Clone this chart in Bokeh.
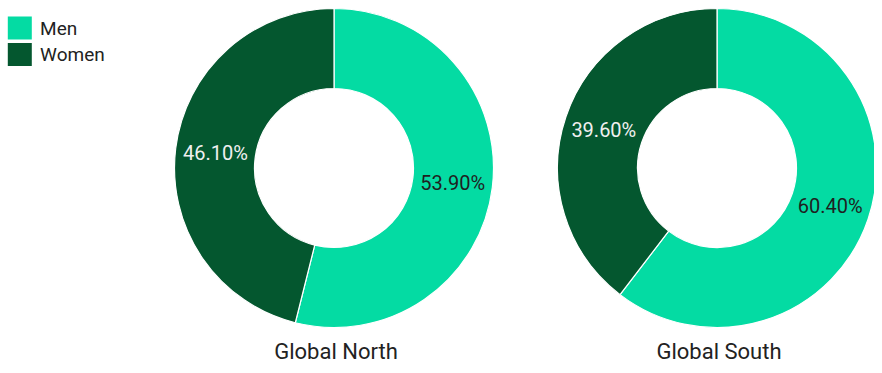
import math
from bokeh.plotting import figure
from bokeh.models import Range1d, ColumnDataSource
from bokeh.core.properties import value
from bokeh.embed import file_html
from bokeh.resources import INLINE

# ---- data ----
regions = ["Global North", "Global South"]
categories = ["Men", "Women"]
men_pct = [53.9, 60.4]
women_pct = [46.1, 39.6]

colors = {"Men": "#04DBA3", "Women": "#04572F"}
label_colors = {"Men": "#1f1f1f", "Women": "#f0f0f0"}

# ---- layout (pixels) ----
W, H = 874, 365
centers_x = [333.5, 716.5]
center_y = 197.5
r_in, r_out = 79.5, 159.5
FONT = "Roboto"

p = figure(width=W, height=H, output_backend="svg", toolbar_location=None,
           x_range=Range1d(0, W), y_range=Range1d(0, H),
           min_border=0, outline_line_color=None, background_fill_color="white",
           border_fill_color="white")
p.axis.visible = False
p.grid.visible = False
p.frame_width = W
p.frame_height = H

series = {"Men": men_pct, "Women": women_pct}
label_data = {"x": [], "y": [], "text": [], "color": []}
for cat in categories:
    xs, ys, starts, ends = [], [], [], []
    for i, reg in enumerate(regions):
        # clockwise from 12 o'clock: Men first, then Women
        before = 0.0 if cat == "Men" else men_pct[i]
        frac0 = before / 100.0
        frac1 = (before + series[cat][i]) / 100.0
        a_start = math.pi / 2 - 2 * math.pi * frac1
        a_end = math.pi / 2 - 2 * math.pi * frac0
        xs.append(centers_x[i]); ys.append(center_y)
        starts.append(a_start); ends.append(a_end)
        mid = (a_start + a_end) / 2
        rm = (r_in + r_out) / 2
        label_data["x"].append(centers_x[i] + rm * math.cos(mid))
        label_data["y"].append(center_y + rm * math.sin(mid))
        label_data["text"].append(f"{series[cat][i]:.2f}%")
        label_data["color"].append(label_colors[cat])
    src = ColumnDataSource(dict(x=xs, y=ys, start=starts, end=ends))
    p.annular_wedge(x="x", y="y", inner_radius=r_in, outer_radius=r_out,
                    inner_radius_units="screen", outer_radius_units="screen",
                    start_angle="start", end_angle="end", source=src,
                    fill_color=colors[cat], line_color="white", line_width=1.2)

p.text(x="x", y="y", text="text", text_color="color", source=ColumnDataSource(label_data),
       text_align="center", text_baseline="middle", text_font=value(FONT),
       text_font_size="20px")

# region titles under each donut
p.text(x=[c + 2 for c in centers_x], y=[14, 14], text=regions, text_align="center",
       text_baseline="middle", text_font=value(FONT), text_font_size="22px",
       text_color="#222222")

# legend (top-left)
leg_y = [H - 27.5 - 26.4 * k for k in range(len(categories))]
p.rect(x=[19.3] * len(categories), y=leg_y, width=24, height=23,
       width_units="screen", height_units="screen",
       fill_color=[colors[c] for c in categories], line_color=None)
p.text(x=[39.6] * len(categories), y=leg_y, text=categories, text_align="left",
       text_baseline="middle", text_font=value(FONT), text_font_size="19px",
       text_color="#222222")

open("out.html", "w").write(file_html(p, INLINE))
